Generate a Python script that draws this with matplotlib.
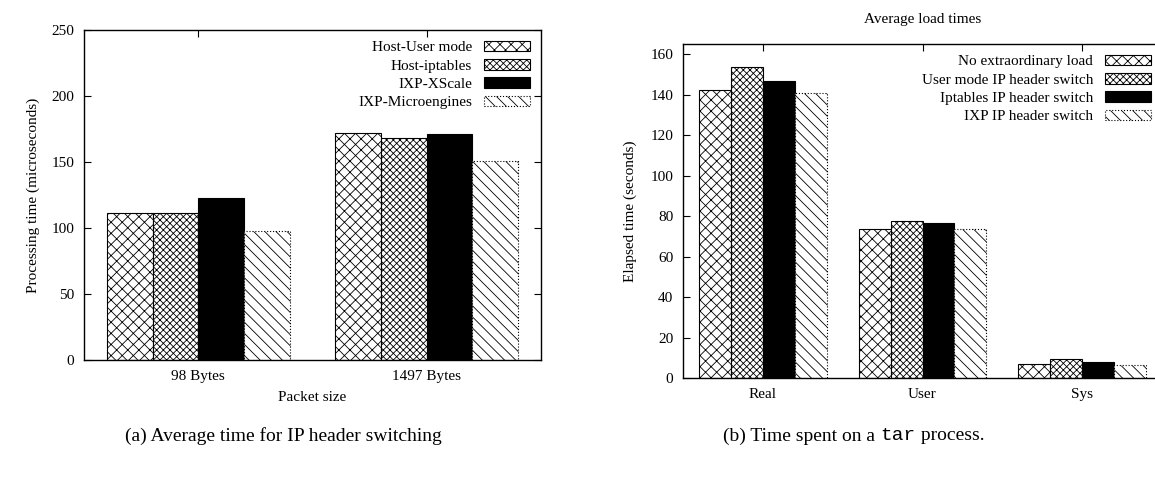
import numpy as np
import matplotlib
matplotlib.use("Agg")
import matplotlib.pyplot as plt

plt.rcParams['font.family'] = ['Liberation Serif', 'DejaVu Serif']
plt.rcParams['hatch.linewidth'] = 0.6

# --- panel (a): average time for IP header switching ---
groups_a = ["98 Bytes", "1497 Bytes"]
series_a = ["Host-User mode", "Host-iptables", "IXP-XScale", "IXP-Microengines"]
host_user = [111, 172]
host_iptables = [111, 168]
ixp_xscale = [123, 171]
ixp_micro = [98, 151]

# --- panel (b): time spent on a tar process ---
groups_b = ["Real", "User", "Sys"]
series_b = ["No extraordinary load", "User mode IP header switch",
            "Iptables IP header switch", "IXP IP header switch"]
no_load = [142.5, 73.5, 6.8]
user_switch = [153.5, 77.7, 9.6]
iptables_switch = [146.7, 76.4, 8.1]
ixp_switch = [141, 73.5, 6.6]

# gnuplot-like bar styles
styles = [
    dict(facecolor="white", edgecolor="black", hatch="xxx", linestyle="-"),
    dict(facecolor="white", edgecolor="black", hatch="xxxxx", linestyle="-"),
    dict(facecolor="black", edgecolor="black", hatch=None, linestyle="-"),
    dict(facecolor="white", edgecolor="black", hatch="\\\\\\", linestyle=":"),
]
FS = 11


def draw_bars(ax, groups, names, values):
    x = np.arange(len(groups))
    w = 0.2
    for i, (name, vals) in enumerate(zip(names, values)):
        st = styles[i]
        ax.bar(x - 0.3 + i * w, vals, w, label=name, facecolor=st["facecolor"],
               edgecolor=st["edgecolor"], hatch=st["hatch"],
               linestyle=st["linestyle"], linewidth=0.8)
    ax.set_xticks(x)
    ax.set_xticklabels(groups)
    ax.set_xlim(-0.5, len(groups) - 0.5)
    ax.tick_params(direction="in", top=True, right=True, length=5,
                   labelsize=FS, pad=7)
    for s in ax.spines.values():
        s.set_linewidth(1.0)
    leg = ax.legend(loc="upper right", frameon=False, markerfirst=False,
                    fontsize=FS, handlelength=3.0, handleheight=0.7,
                    labelspacing=0.3, handletextpad=0.8,
                    borderaxespad=0.3)
    return leg


fig = plt.figure(figsize=(11.55, 4.79), dpi=100)

# left panel: x 84..541 px, y 30..360 px
ax1 = fig.add_axes([84 / 1155, 1 - 360 / 479, 457 / 1155, 330 / 479])
draw_bars(ax1, groups_a, series_a, [host_user, host_iptables, ixp_xscale, ixp_micro])
ax1.set_ylim(0, 250)
ax1.set_yticks([0, 50, 100, 150, 200, 250])
ax1.set_ylabel("Processing time (microseconds)", fontsize=FS, labelpad=8)
ax1.set_xlabel("Packet size", fontsize=FS, labelpad=6)

# right panel: x 683..1162 px (cut at figure edge), y 44..378 px
ax2 = fig.add_axes([683 / 1155, 1 - 378 / 479, 479 / 1155, 334 / 479])
draw_bars(ax2, groups_b, series_b, [no_load, user_switch, iptables_switch, ixp_switch])
ax2.set_ylim(0, 165)
ax2.set_yticks(np.arange(0, 161, 20))
ax2.set_ylabel("Elapsed time (seconds)", fontsize=FS, labelpad=10)
ax2.set_title("Average load times", fontsize=FS, pad=15)

fig.text(0.245, 0.09, "(a) Average time for IP header switching",
         ha="center", va="center", fontsize=14)
fig.text(0.762, 0.09, "(b) Time spent on a ", ha="right", va="center", fontsize=14)
fig.text(0.762, 0.09, "tar", ha="left", va="center", fontsize=14,
         family="Liberation Mono")
fig.text(0.7935, 0.09, " process.", ha="left", va="center", fontsize=14)

fig.savefig("out.png", dpi=100)
